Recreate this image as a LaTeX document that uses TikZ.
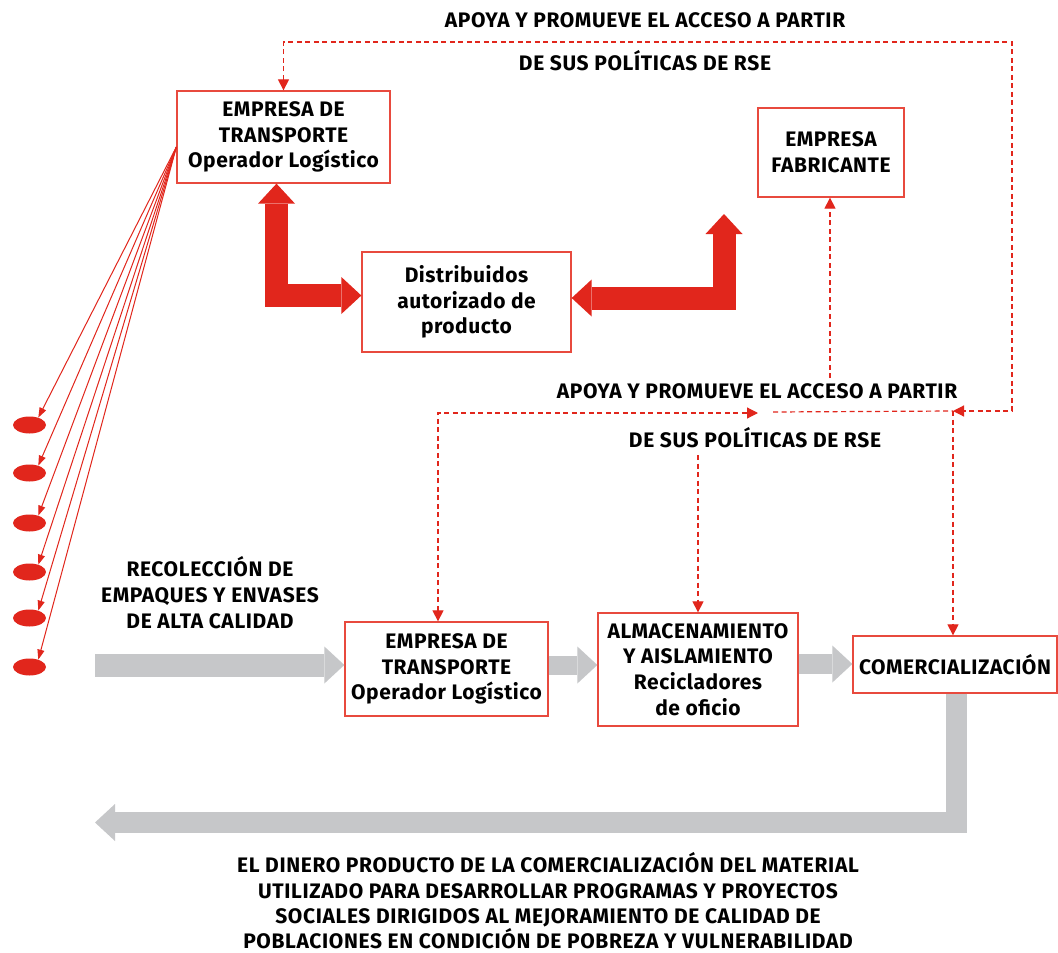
\documentclass[tikz,border=0pt]{standalone}
\usepackage{fontspec}
\setmainfont{Fira Sans}
\newfontfamily\boxfont[LetterSpace=2.5]{Fira Sans}
\newfontfamily\lblfont[LetterSpace=3]{Fira Sans}
\usetikzlibrary{arrows.meta,shapes.geometric,calc}
\definecolor{myred}{HTML}{E1261C}
\definecolor{boxred}{HTML}{E84A3E}
\definecolor{mygray}{HTML}{C6C7C9}
\begin{document}
\begin{tikzpicture}[x=1pt,y=-1pt,
  box/.style={draw=boxred, line width=1.3pt, fill=white, align=center, inner sep=0pt,
    font=\boxfont\bfseries\fontsize{21}{25.7}\selectfont},
  lbl/.style={align=center, inner sep=0pt, font=\lblfont\bfseries\fontsize{21}{26}\selectfont},
  dsh/.style={draw=myred, line width=1.2pt, dash pattern=on 5pt off 3.5pt},
  dtip/.tip={Triangle[length=11pt,width=11pt]},
  ga/.style={draw=mygray, line width=22pt, line join=miter,
    -{Triangle[length=20pt,width=37pt,line width=0pt]}},
  ra/.style={draw=myred, line width=23pt, line join=miter,
    {Triangle[length=20pt,width=37pt,line width=0pt]}-{Triangle[length=20pt,width=37pt,line width=0pt]}},
  dot/.style={ellipse, fill=myred, minimum width=33pt, minimum height=17pt, inner sep=0pt},
  fan/.style={draw=myred, line width=1pt, -{Triangle[length=10pt,width=7pt]}}
]
\fill[white] (0,0) rectangle (1058,953);
\useasboundingbox (0,0) rectangle (1058,953);

% boxes
\node[box, minimum width=213pt, minimum height=92pt] (tr1) at (283.5,137) {EMPRESA DE\\TRANSPORTE\\Operador Logístico};
\node[box, minimum width=146pt, minimum height=89pt] (fab) at (831,152.5) {EMPRESA\\FABRICANTE};
\node[box, minimum width=209pt, minimum height=100pt] (dist) at (466.5,302) {Distribuidos\\autorizado de\\producto};
\node[box, minimum width=203pt, minimum height=94pt] (tb) at (446.5,669) {EMPRESA DE\\TRANSPORTE\\Operador Logístico};
\node[box, minimum width=200pt, minimum height=113pt] (alm) at (698,669.5) {ALMACENAMIENTO\\Y AISLAMIENTO\\Recicladores\\de oficio};
\node[box, minimum width=204pt, minimum height=57pt] (com) at (955,664.5) {COMERCIALIZACIÓN};

% labels
\node[lbl] (t1) at (645,20) {APOYA Y PROMUEVE EL ACCESO A PARTIR};
\node[lbl] (t2) at (645,61) {DE SUS POLÍTICAS DE RSE};
\node[lbl] (m1) at (757,391) {APOYA Y PROMUEVE EL ACCESO A PARTIR};
\node[lbl] (m2) at (755,438) {DE SUS POLÍTICAS DE RSE};
\node[lbl] (rec) at (210,593) {RECOLECCIÓN DE\\EMPAQUES Y ENVASES\\DE ALTA CALIDAD};
\node[lbl, font=\lblfont\bfseries\fontsize{21}{25.3}\selectfont] (din) at (548,901) {EL DINERO PRODUCTO DE LA COMERCIALIZACIÓN DEL MATERIAL\\UTILIZADO PARA DESARROLLAR PROGRAMAS Y PROYECTOS\\SOCIALES DIRIGIDOS AL MEJORAMIENTO DE CALIDAD DE\\POBLACIONES EN CONDICIÓN DE POBREZA Y VULNERABILIDAD};

% red dots
\foreach \i/\yy in {1/425,2/473,3/523,4/572,5/618,6/667}{
  \node[dot] (e\i) at (29.5,\yy) {};
}
\coordinate (fanorig) at ($(tr1.west)+(0,10)$);
\foreach \i in {1,...,6}{
  \draw[fan] (fanorig) -- (e\i.40);
}

% dashed connectors
\coordinate (rj) at (1012,411);
\coordinate (cj) at (953,411);
\draw[dsh, {dtip}-{dtip}] (tr1.north) |- (rj |- 0,42) -- (rj) -- (cj);
\draw[dsh, -{dtip}] (cj) -- (cj |- com.north);
\coordinate (mj) at (773,412);
\draw[dsh] (mj) -- (cj);
\draw[dsh, {dtip}-{dtip}] (tb.north -| 438,0) |- (758,413);
\coordinate (fj) at (830,378);
\draw[dsh, -{dtip}] (fj) -- (fj |- fab.south);
\coordinate (aj) at (698,455);
\draw[dsh, -{dtip}] (aj) -- (aj |- alm.north);

% red thick L arrows
\draw[ra] (tr1.south -| 276.5,0) |- (dist.west |- 0,295.5);
\coordinate (rtop) at (724,214);
\draw[ra] (dist.east |- 0,298) -| (rtop);

% gray arrows
\coordinate (gs) at (95,665);
\draw[ga, line width=23pt] (gs) -- (gs -| tb.west);
\draw[ga, line width=19pt] (tb.east |- 0,665) -- (alm.west |- 0,665);
\draw[ga, line width=20pt] (alm.east |- 0,664) -- (com.west |- 0,664);
\coordinate (gend) at (95,822.5);
\draw[ga, line width=21pt] (com.south -| 956,0) |- (gend);
\end{tikzpicture}
\end{document}
